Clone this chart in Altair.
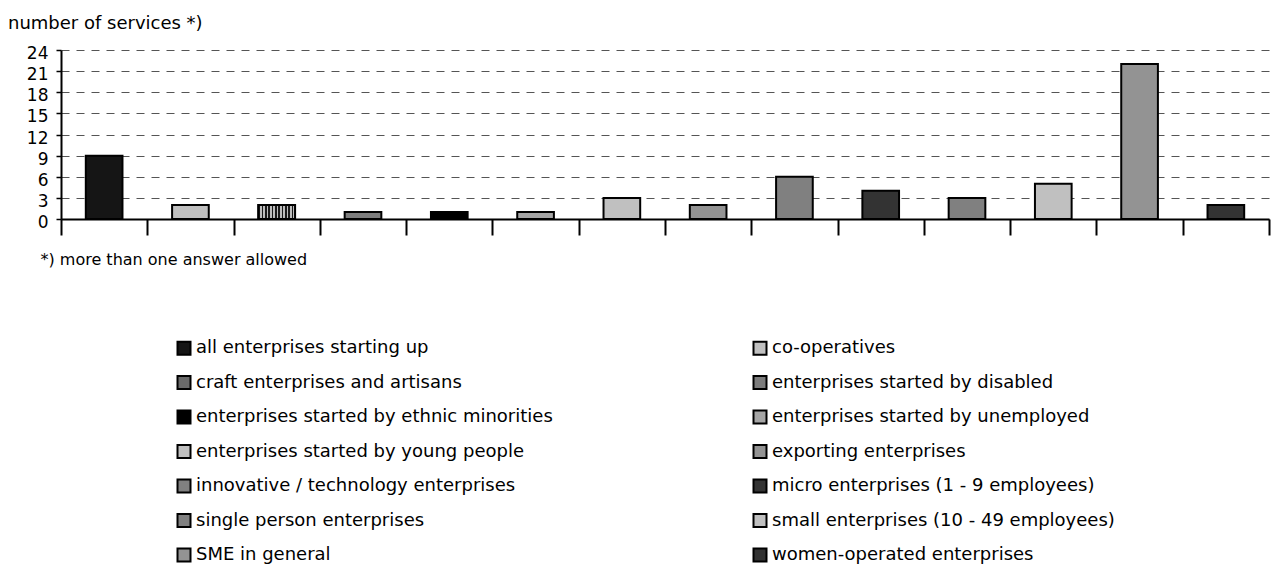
import altair as alt
import pandas as pd

# Target groups of the support services (x categories / legend entries)
categories = [
    "all enterprises starting up",
    "co-operatives",
    "craft enterprises and artisans",
    "enterprises started by disabled",
    "enterprises started by ethnic minorities",
    "enterprises started by unemployed",
    "enterprises started by young people",
    "exporting enterprises",
    "innovative / technology enterprises",
    "micro enterprises (1 - 9 employees)",
    "single person enterprises",
    "small enterprises (10 - 49 employees)",
    "SME in general",
    "women-operated enterprises",
]

# Number of services per target group
services = [9, 2, 2, 1, 1, 1, 3, 2, 6, 4, 3, 5, 22, 2]

# Grey-scale fills, one per target group
fills = [
    "#151515", "#c0c0c0", "#6a6a6a", "#7d7d7d", "#000000", "#a6a6a6", "#c0c0c0",
    "#939393", "#808080", "#333333", "#808080", "#c0c0c0", "#939393", "#333333",
]

y_ticks = [0, 3, 6, 9, 12, 15, 18, 21, 24]

FONT = "DejaVu Sans"

df = pd.DataFrame({"target": categories, "services": services})

x_enc = alt.X(
    "target:N",
    sort=categories,
    scale=alt.Scale(paddingInner=0, paddingOuter=0),
    axis=alt.Axis(
        labels=False,
        grid=False,
        tickBand="extent",
        tickSize=16,
        tickWidth=2,
        tickColor="black",
        domainColor="black",
        domainWidth=2,
        title="*) more than one answer allowed",
        titleFont=FONT,
        titleFontSize=16,
        titleFontWeight="normal",
        titleColor="black",
        titleAlign="left",
        titleBaseline="alphabetic",
        titleX=-21,
        titleY=45,
    ),
)

y_enc = alt.Y(
    "services:Q",
    scale=alt.Scale(domain=[0, 24], nice=False, zero=True),
    axis=alt.Axis(
        values=y_ticks,
        title=None,
        grid=True,
        gridColor="#555555",
        gridWidth=1,
        gridDash=[8, 7],
        tickSize=5,
        tickWidth=1.5,
        tickColor="black",
        domainColor="black",
        domainWidth=2,
        labelFont=FONT,
        labelFontSize=17,
        labelColor="black",
        labelPadding=8,
        labelOffset=3.5,
    ),
)

bars = alt.Chart(df).mark_bar(
    width={"band": 0.425}, stroke="black", strokeWidth=2
).encode(
    x=x_enc,
    y=y_enc,
    color=alt.Color(
        "target:N",
        scale=alt.Scale(domain=categories, range=fills),
        legend=alt.Legend(
            title=None,
            orient="none",
            direction="horizontal",
            legendX=114,
            legendY=289,
            columns=2,
            padding=0,
            symbolType="square",
            symbolSize=169,
            symbolStrokeColor="black",
            symbolStrokeWidth=2,
            symbolOpacity=1,
            labelFont=FONT,
            labelFontSize=18,
            labelColor="black",
            labelOffset=3,
            labelLimit=600,
            rowPadding=12.5,
            columnPadding=196,
        ),
    ),
)

# Vertical hatching for the craft enterprises bar
n_stripes = 11
stops = []
for i in range(n_stripes * 2):
    c = "#1a1a1a" if i % 2 == 0 else "#bdbdbd"
    stops.append(alt.GradientStop(offset=i / (n_stripes * 2), color=c))
    stops.append(alt.GradientStop(offset=(i + 1) / (n_stripes * 2), color=c))

stripes = alt.Chart(df).transform_filter(
    alt.datum.target == "craft enterprises and artisans"
).mark_bar(
    width={"band": 0.425},
    stroke="black",
    strokeWidth=2,
    fill=alt.Gradient(gradient="linear", x1=0, x2=1, y1=0, y2=0, stops=stops),
).encode(x=x_enc, y=y_enc)

chart = (
    alt.layer(bars, stripes)
    .properties(
        width=1208,
        height=169,
        autosize=alt.AutoSizeParams(type="none"),
        padding={"left": 61, "top": 50, "right": 2, "bottom": 347},
        background="white",
        title=alt.TitleParams(
            "number of services *)",
            anchor="start",
            frame="group",
            dx=-53,
            offset=-2,
            font=FONT,
            fontSize=18,
            fontWeight="normal",
            color="black",
            baseline="alphabetic",
        ),
    )
    .configure_view(strokeWidth=0)
)

chart.save("out.html", embed_options={"renderer": "svg", "actions": False})
